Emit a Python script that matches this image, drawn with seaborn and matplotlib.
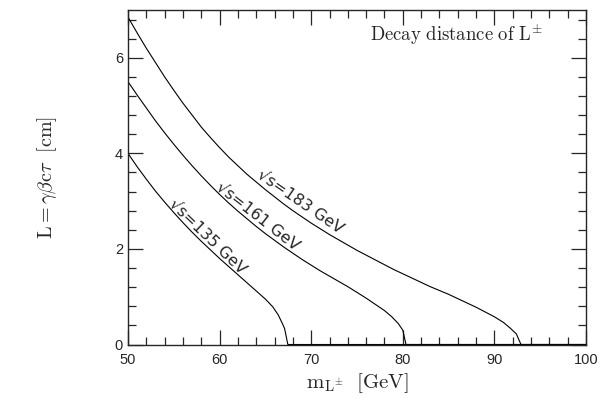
import matplotlib
matplotlib.use("Agg")
import matplotlib.pyplot as plt
import seaborn as sns
import pandas as pd
from matplotlib.ticker import MultipleLocator

# Data
x_135 = [50, 51, 52, 53, 54, 55, 56, 57, 58, 59, 60, 61, 62, 63, 64, 65, 65.8, 66.4, 66.9, 67.1, 67.45, 100]
y_135 = [4.0, 3.72, 3.46, 3.21, 2.98, 2.76, 2.55, 2.35, 2.16, 1.98, 1.80, 1.63, 1.46, 1.29, 1.12, 0.95,
         0.79, 0.62, 0.42, 0.33, 0.0, 0.0]

x_161 = [50, 51, 52, 53, 54, 55, 56, 57, 58, 59, 60, 61, 62, 63, 64, 65, 66, 67, 68, 69, 70, 71, 72,
         73, 74, 75, 76, 77, 78, 78.8, 79.5, 80.0, 80.35, 100]
y_161 = [5.5, 5.22, 4.95, 4.68, 4.43, 4.19, 3.96, 3.74, 3.53, 3.33, 3.14, 2.96, 2.79, 2.63, 2.47, 2.32,
         2.18, 2.04, 1.91, 1.78, 1.66, 1.54, 1.43, 1.32, 1.21, 1.09, 0.97, 0.84, 0.71, 0.58, 0.44, 0.3,
         0.0, 0.0]

x_183 = [50, 51, 52, 53, 54, 55, 56, 57, 58, 59, 60, 61, 62, 63, 64, 65, 66, 67, 68, 69, 70, 71, 72,
         73, 74, 75, 76, 77, 78, 79, 80, 81, 82, 83, 84, 85, 86, 87, 88, 89, 90, 91, 91.8, 92.4, 92.9, 100]
y_183 = [6.85, 6.52, 6.2, 5.9, 5.6, 5.32, 5.05, 4.8, 4.55, 4.33, 4.12, 3.92, 3.74, 3.56, 3.40, 3.24,
         3.09, 2.94, 2.80, 2.67, 2.54, 2.42, 2.30, 2.19, 2.08, 1.97, 1.87, 1.77, 1.67, 1.57, 1.48, 1.39,
         1.30, 1.21, 1.13, 1.05, 0.96, 0.87, 0.78, 0.68, 0.58, 0.46, 0.33, 0.22, 0.0, 0.0]

series_names = ["135", "161", "183"]
label_texts = ["\u221as=135 GeV", "\u221as=161 GeV", "\u221as=183 GeV"]
label_pos = [(58.7, 2.27), (64.2, 2.69), (68.8, 2.99)]
label_rot = [-44, -38, -34.5]

x_ticks = [50, 60, 70, 80, 90, 100]
y_ticks = [0, 2, 4, 6]

sns.set_style("ticks")
plt.rcParams["font.family"] = ["Liberation Sans", "DejaVu Sans"]
plt.rcParams["mathtext.fontset"] = "cm"

frames = []
for name, xs, ys in zip(series_names, [x_135, x_161, x_183], [y_135, y_161, y_183]):
    frames.append(pd.DataFrame({"x": xs, "y": ys, "s": name}))
df = pd.concat(frames, ignore_index=True)

fig = plt.figure(figsize=(6.0, 3.98), dpi=100)
ax = fig.add_axes([0.2133, 0.1344, 0.7634, 0.8406])

sns.lineplot(data=df, x="x", y="y", hue="s", units="s", estimator=None,
             palette=["black"] * 3, legend=False, sort=False, lw=0.8, ax=ax)

ax.set_xlim(50, 100)
ax.set_ylim(0, 7)
ax.set_xticks(x_ticks)
ax.set_yticks(y_ticks)
ax.xaxis.set_minor_locator(MultipleLocator(2))
ax.yaxis.set_minor_locator(MultipleLocator(0.4))
ax.tick_params(which="both", direction="in", top=True, right=True, labelsize=10.5, width=0.9)
ax.tick_params(which="major", length=10.5)
ax.tick_params(which="minor", length=5.5)
ax.tick_params(axis="x", pad=6)
for sp in ax.spines.values():
    sp.set_linewidth(1.0)
    sp.set_visible(True)

ax.set_xlabel(r"$\mathrm{m}_{\mathrm{L}^{\pm}}\ \ [\mathrm{GeV}]$", fontsize=15, labelpad=3)
ax.set_ylabel(r"$\mathrm{L}{=}\gamma\beta \mathrm{c}\tau\ \ [\mathrm{cm}]$", fontsize=14.5, labelpad=40)

ax.text(0.905, 0.925, r"$\mathrm{Decay\ distance\ of\ L^{\pm}}$", transform=ax.transAxes,
        ha="right", va="center", fontsize=13.5)

for t, (lx, ly), r in zip(label_texts, label_pos, label_rot):
    ax.text(lx, ly, t, rotation=r, rotation_mode="anchor", ha="center", va="center",
            fontsize=11.5, family=["DejaVu Sans"])

fig.savefig("out.png", dpi=100)
